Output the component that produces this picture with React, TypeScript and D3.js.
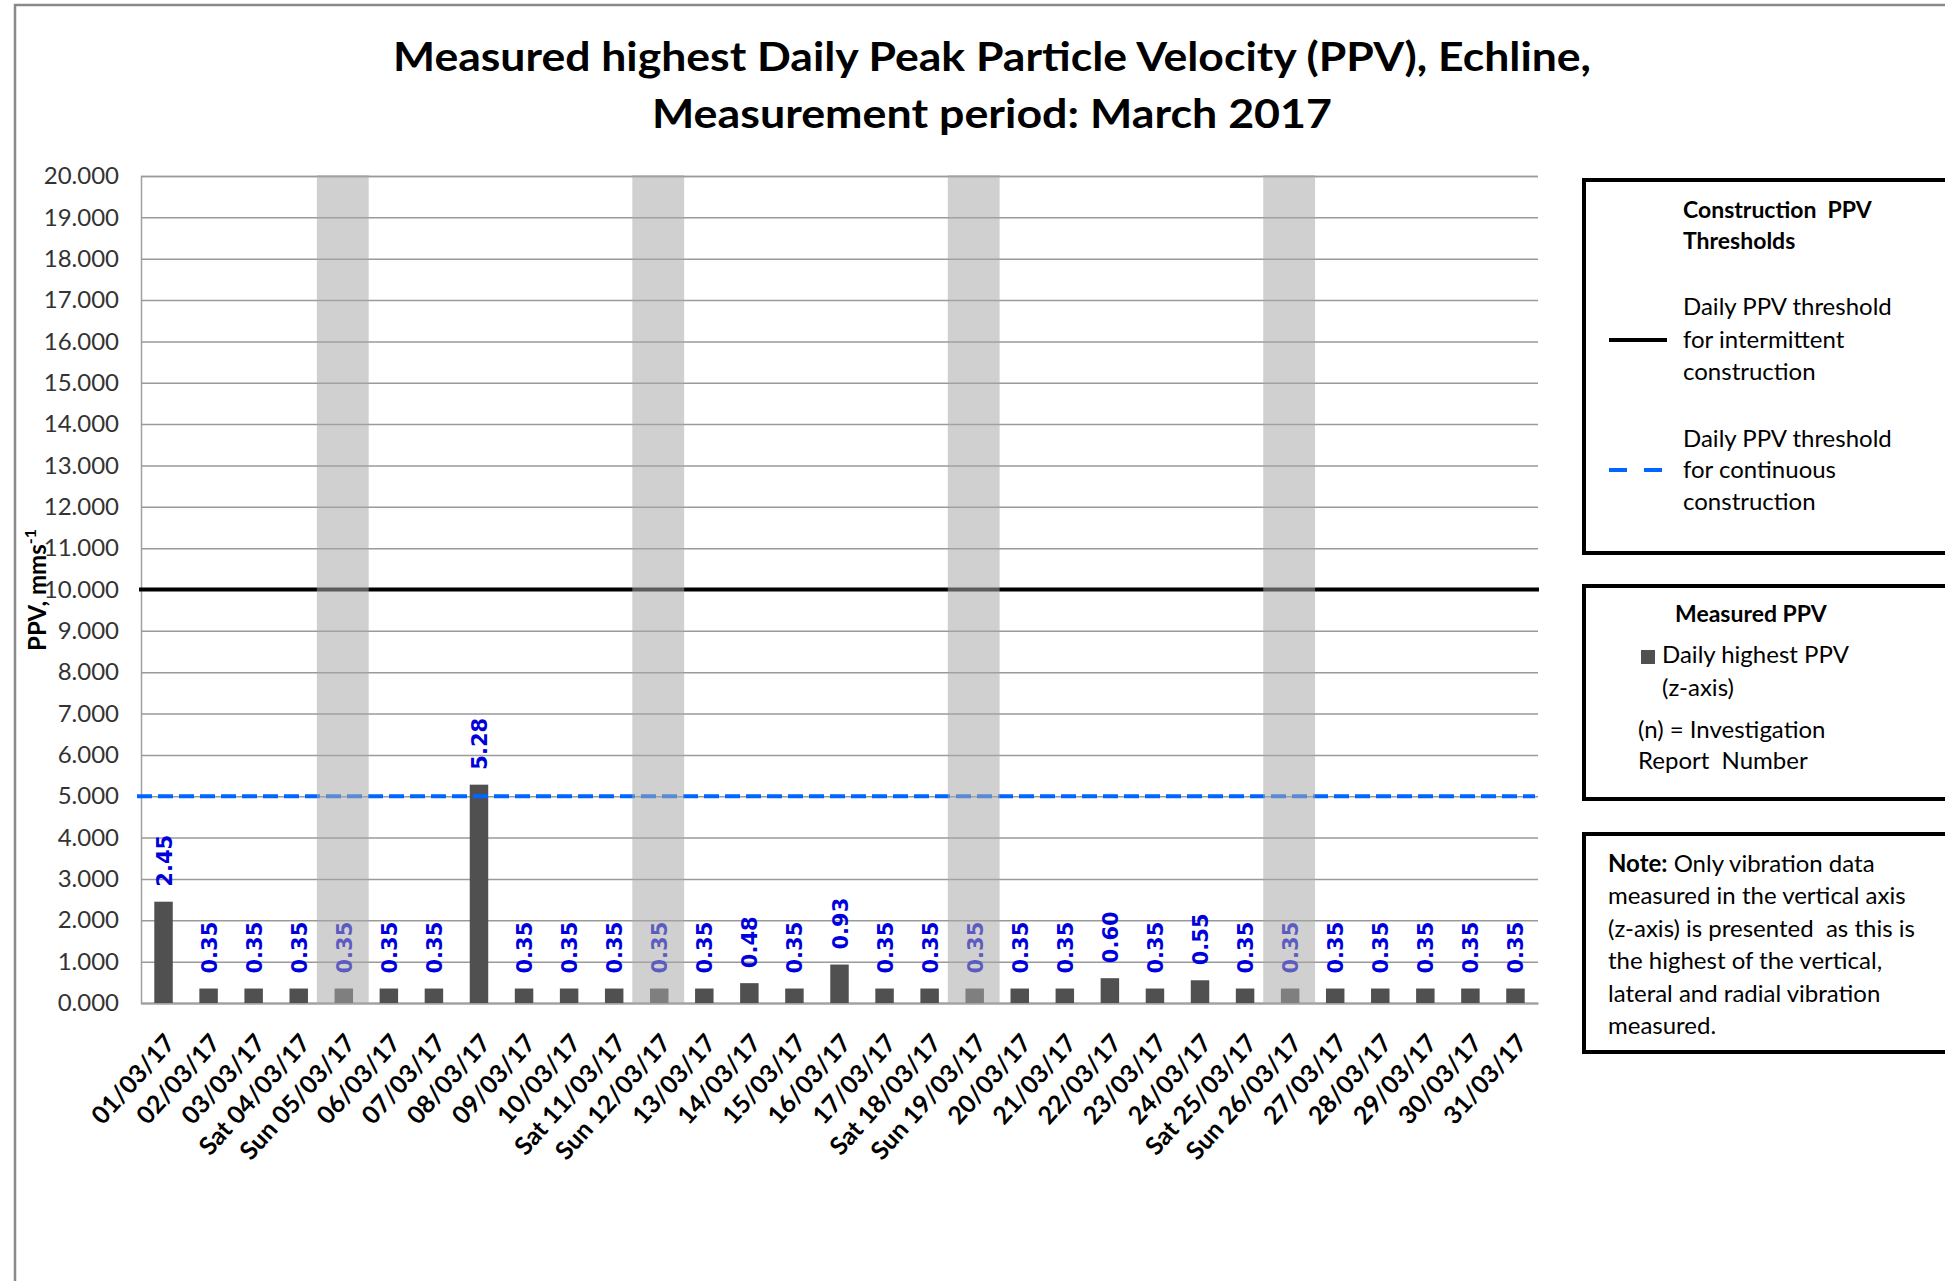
import { useEffect, useRef } from "react";
import * as d3 from "d3";

const categories = [
  "01/03/17", "02/03/17", "03/03/17", "Sat 04/03/17", "Sun 05/03/17", "06/03/17",
  "07/03/17", "08/03/17", "09/03/17", "10/03/17", "Sat 11/03/17", "Sun 12/03/17",
  "13/03/17", "14/03/17", "15/03/17", "16/03/17", "17/03/17", "Sat 18/03/17",
  "Sun 19/03/17", "20/03/17", "21/03/17", "22/03/17", "23/03/17", "24/03/17",
  "Sat 25/03/17", "Sun 26/03/17", "27/03/17", "28/03/17", "29/03/17", "30/03/17",
  "31/03/17",
];

// daily highest PPV (z-axis), mm/s
const dailyPPV = [
  2.45, 0.35, 0.35, 0.35, 0.35, 0.35, 0.35, 5.28, 0.35, 0.35, 0.35, 0.35, 0.35,
  0.48, 0.35, 0.93, 0.35, 0.35, 0.35, 0.35, 0.35, 0.6, 0.35, 0.55, 0.35, 0.35,
  0.35, 0.35, 0.35, 0.35, 0.35,
];

// Sunday shading (full height of the axis)
const sundayShade = [
  0, 0, 0, 0, 20, 0, 0, 0, 0, 0, 0, 20, 0, 0, 0, 0, 0, 0, 20, 0, 0, 0, 0, 0, 0,
  20, 0, 0, 0, 0, 0,
];

const intermittentThreshold = 10;
const continuousThreshold = 5;

const titleLines = [
  "Measured highest Daily Peak Particle Velocity (PPV), Echline,",
  "Measurement period: March 2017",
];

const calibri = "Lato, 'Open Sans', sans-serif";

export default function App() {
  const ref = useRef(null);

  useEffect(() => {
    const width = 1945;
    const height = 1281;
    const plot = { left: 141, right: 1538, top: 176, bottom: 1003 };

    const svg = d3.select(ref.current).attr("width", width).attr("height", height);
    svg.selectAll("*").remove();

    svg.append("rect").attr("width", width).attr("height", height).attr("fill", "#fff");

    // outer chart frame (only top/left visible)
    svg
      .append("path")
      .attr("d", `M15,${height + 5} L15,5 L${width + 5},5`)
      .attr("fill", "none")
      .attr("stroke", "#8a8a8a")
      .attr("stroke-width", 2.5);

    // title
    svg
      .selectAll("text.title")
      .data(titleLines)
      .join("text")
      .attr("class", "title")
      .attr("x", 992)
      .attr("y", (d, i) => (i === 0 ? 71 : 128))
      .attr("text-anchor", "middle")
      .attr("font-family", calibri)
      .attr("font-weight", 700)
      .attr("font-size", 40)
      .attr("textLength", (d, i) => (i === 0 ? 1198 : 680))
      .attr("lengthAdjust", "spacingAndGlyphs")
      .attr("fill", "#000")
      .text(d => d);

    const x = d3
      .scaleBand()
      .domain(categories)
      .range([plot.left, plot.right])
      .padding(0);

    const y = d3
      .scaleLinear()
      .domain([0, 20])
      .range([plot.bottom, plot.top]);

    // y axis + gridlines
    const yAxis = svg
      .append("g")
      .attr("transform", `translate(${plot.left},0)`)
      .call(
        d3
          .axisLeft(y)
          .ticks(20)
          .tickSize(-(plot.right - plot.left))
          .tickPadding(22)
          .tickFormat(d3.format(".3f"))
      );
    yAxis.select(".domain").attr("stroke", "#a0a0a0").attr("stroke-width", 1.5);
    yAxis.selectAll(".tick line").attr("stroke", "#9a9a9a").attr("stroke-width", 1.5);
    yAxis
      .selectAll(".tick text")
      .attr("font-family", calibri)
      .attr("font-size", 24)
      .attr("fill", "#333");

    // x axis
    const xAxis = svg
      .append("g")
      .attr("transform", `translate(0,${plot.bottom})`)
      .call(d3.axisBottom(x).tickSize(0));
    xAxis
      .select(".domain")
      .attr("stroke", "#a0a0a0")
      .attr("stroke-width", 2);
    xAxis
      .selectAll(".tick text")
      .attr("x", 0)
      .attr("y", 0)
      .attr("dy", 0)
      .attr("transform", "translate(13,41) rotate(-48)")
      .attr("text-anchor", "end")
      .attr("font-family", calibri)
      .attr("font-weight", 700)
      .attr("font-size", 25)
      .attr("fill", "#000");

    // y axis title
    const yt = svg
      .append("text")
      .attr("transform", `translate(46,590) rotate(-90)`)
      .attr("text-anchor", "middle")
      .attr("font-family", calibri)
      .attr("font-weight", 700)
      .attr("font-size", 24)
      .attr("fill", "#000");
    yt.append("tspan").text("PPV, mms");
    yt.append("tspan").attr("font-size", 16).attr("dy", -10).text("-1");

    const barW = x.bandwidth() * 0.41;

    // bars
    svg
      .append("g")
      .selectAll("rect")
      .data(dailyPPV)
      .join("rect")
      .attr("x", (d, i) => x(categories[i]) + (x.bandwidth() - barW) / 2)
      .attr("y", d => y(d))
      .attr("width", barW)
      .attr("height", d => y(0) - y(d))
      .attr("fill", "#505050");

    // data labels
    svg
      .append("g")
      .selectAll("text")
      .data(dailyPPV)
      .join("text")
      .attr(
        "transform",
        (d, i) =>
          `translate(${x(categories[i]) + x.bandwidth() / 2 + 8},${y(d) - 15}) rotate(-90)`
      )
      .attr("font-family", "'DejaVu Sans', Verdana, sans-serif")
      .attr("font-weight", 700)
      .attr("font-size", 21)
      .attr("fill", "#0000dd")
      .text(d => d.toFixed(2));

    // threshold lines
    svg
      .append("line")
      .attr("x1", 139)
      .attr("x2", 1539)
      .attr("y1", y(intermittentThreshold))
      .attr("y2", y(intermittentThreshold))
      .attr("stroke", "#000")
      .attr("stroke-width", 4);

    svg
      .append("line")
      .attr("x1", 137)
      .attr("x2", 1535)
      .attr("y1", y(continuousThreshold))
      .attr("y2", y(continuousThreshold))
      .attr("stroke", "#0066ff")
      .attr("stroke-width", 4)
      .attr("stroke-dasharray", "15,6");

    // Sunday shading drawn over everything in the plot
    const shadeW = x.bandwidth() * 1.15;
    svg
      .append("g")
      .selectAll("rect")
      .data(sundayShade)
      .join("rect")
      .attr("x", (d, i) => x(categories[i]) + (x.bandwidth() - shadeW) / 2 - 1)
      .attr("y", d => y(d) - 1)
      .attr("width", shadeW)
      .attr("height", d => (d > 0 ? y(0) - y(d) + 2 : 0))
      .attr("fill", "rgb(168,168,168)")
      .attr("fill-opacity", 0.54);

    // legend boxes
    const lg = svg.append("g").attr("font-family", calibri).attr("fill", "#000");
    const box = (top, bottom) =>
      lg
        .append("rect")
        .attr("x", 1584)
        .attr("y", top)
        .attr("width", 420)
        .attr("height", bottom - top)
        .attr("fill", "#fff")
        .attr("stroke", "#000")
        .attr("stroke-width", 4);

    box(180, 553);
    box(586, 799);
    box(834, 1052);

    const txt = (tx, ty, s, opts = {}) =>
      lg
        .append("text")
        .attr("x", tx)
        .attr("y", ty)
        .attr("font-size", opts.size || 24)
        .attr("font-weight", opts.bold ? 700 : 400)
        .style("white-space", "pre")
        .text(s);

    txt(1683, 218, "Construction  PPV", { bold: true, size: 23 });
    txt(1683, 249, "Thresholds", { bold: true, size: 23 });

    lg.append("line")
      .attr("x1", 1609).attr("x2", 1667).attr("y1", 340).attr("y2", 340)
      .attr("stroke", "#000").attr("stroke-width", 4);
    txt(1683, 315, "Daily PPV threshold");
    txt(1683, 348, "for intermittent");
    txt(1683, 380, "construction");

    lg.append("line")
      .attr("x1", 1609).attr("x2", 1666).attr("y1", 470).attr("y2", 470)
      .attr("stroke", "#0066ff").attr("stroke-width", 4)
      .attr("stroke-dasharray", "18,17");
    txt(1683, 447, "Daily PPV threshold");
    txt(1683, 478, "for continuous");
    txt(1683, 510, "construction");

    txt(1675, 622, "Measured PPV", { bold: true, size: 23 });
    lg.append("rect")
      .attr("x", 1641).attr("y", 650).attr("width", 14).attr("height", 14)
      .attr("fill", "#505050");
    txt(1662, 663, "Daily highest PPV");
    txt(1662, 696, "(z-axis)");
    txt(1638, 738, "(n) = Investigation");
    txt(1638, 769, "Report  Number");

    const note = txt(1608, 872, "", {});
    note.append("tspan").attr("font-weight", 700).text("Note:");
    note.append("tspan").text(" Only vibration data");
    txt(1608, 904, "measured in the vertical axis");
    txt(1608, 937, "(z-axis) is presented  as this is");
    txt(1608, 969, "the highest of the vertical,");
    txt(1608, 1002, "lateral and radial vibration");
    txt(1608, 1034, "measured.");
  }, []);

  return (
    <svg
      ref={ref}
      style={{ position: "absolute", left: 0, top: 0, display: "block" }}
    />
  );
}
